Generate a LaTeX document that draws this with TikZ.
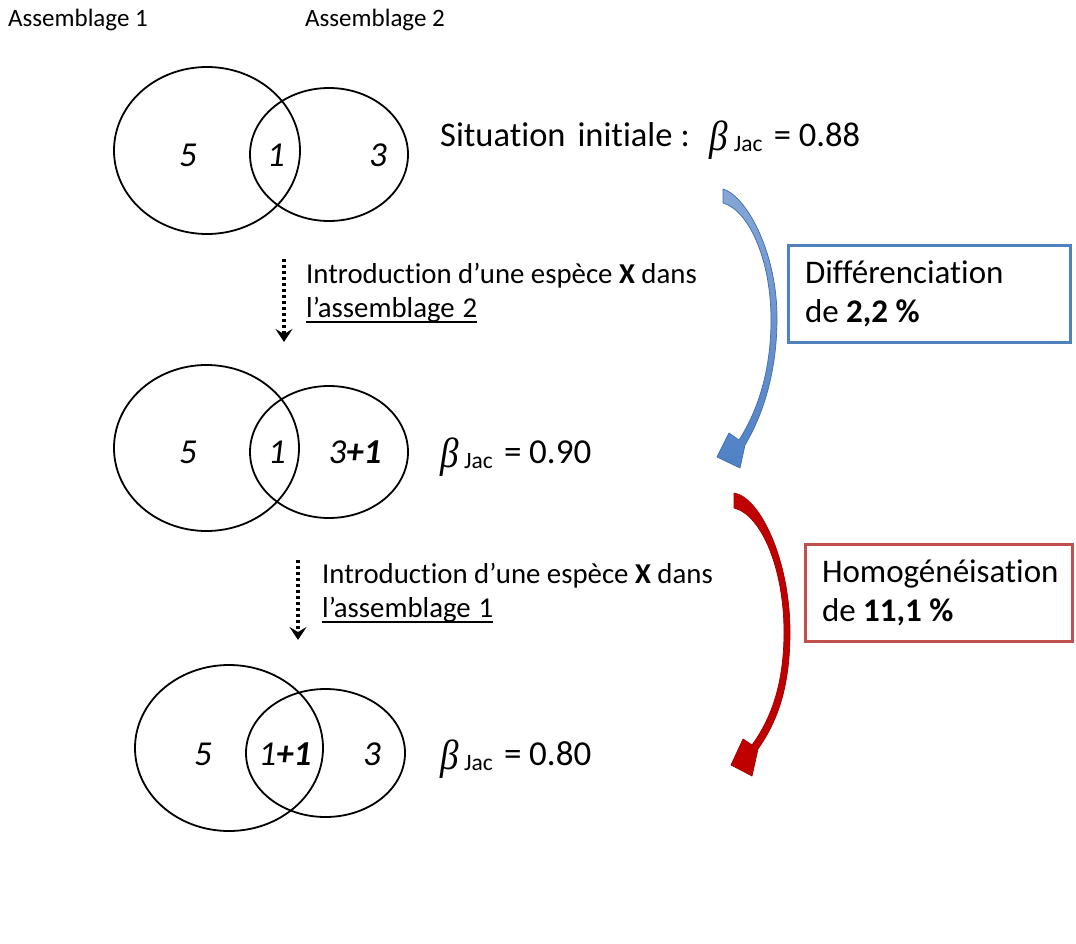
\documentclass[tikz,border=0pt]{standalone}
\usepackage{fontspec}
\usepackage{graphicx}
\setmainfont{Carlito}[Ligatures=CommonOff]
\newfontfamily\grk{Liberation Serif}
\usetikzlibrary{arrows.meta,shapes.geometric}
\definecolor{bboxc}{HTML}{4F81BD}
\definecolor{rboxc}{HTML}{C0504D}
\definecolor{barrowc}{HTML}{4F81C6}
\definecolor{barrowtop}{HTML}{86A6D6}
\definecolor{barrowline}{HTML}{3E6DB0}
\definecolor{rarrowc}{HTML}{C00000}
\definecolor{rarrowline}{HTML}{A00000}
\newcommand\myul[1]{\setbox0\hbox{#1}\rlap{\rule[-5.5pt]{\wd0}{1.4pt}}\box0}
\newcommand\bjac[1]{\makebox[24pt][l]{\raisebox{-4pt}{\scalebox{0.95}[1.08]{\grk\itshape\fontsize{39}{40}\selectfont β}}}%
  \makebox[40pt][l]{\raisebox{-5pt}{\fontsize{23.5}{24}\selectfont Jac}}%
  \makebox[25pt][l]{=}#1}
\begin{document}
\begin{tikzpicture}[x=1pt,y=-1pt,
  venn/.style={draw=black, line width=1.8pt, ellipse, inner sep=0pt},
  num/.style={anchor=base, inner sep=0pt, font=\fontsize{35}{40}\selectfont\itshape},
  small/.style={anchor=base west, inner sep=0pt, font=\fontsize{25}{30}\selectfont},
  intro/.style={anchor=base west, inner sep=0pt, align=flush left, font=\fontsize{28.8}{34}\selectfont},
  blabel/.style={anchor=base west, inner sep=0pt, font=\fontsize{35}{40}\selectfont},
  dotarrow/.style={line width=3.2pt, dash pattern=on 3pt off 3pt, -{Stealth[length=13pt,width=17pt,inset=5pt]}},
  resbox/.style={line width=3pt, rectangle, inner xsep=17pt, inner ysep=0pt, align=flush left, font=\fontsize{33}{39}\selectfont},
]
\useasboundingbox[fill=white] (0,0) rectangle (1076,944);

% top labels
\node[small] (lab1) at (8,27) {Assemblage 1};
\node[small] (lab2) at (305,27) {Assemblage 2};

% Venn 1
\node[venn, minimum width=186pt, minimum height=167pt] (v1a) at (207,150.5) {};
\node[venn, minimum width=158pt, minimum height=133pt] (v1b) at (329,154.5) {};
\node[num] (n1a) at (188,167) {5};
\node[num] (n1b) at (276,167) {1};
\node[num] (n1c) at (378,167) {3};
\node[blabel, font=\fontsize{34.5}{40}\selectfont] (b1) at (440,147) {Situation\hspace{12pt}initiale\hspace{8pt}:\hspace{20pt}\bjac{0.88}};

% Venn 2
\node[venn, minimum width=185pt, minimum height=166pt] (v2a) at (206.5,448) {};
\node[venn, minimum width=158pt, minimum height=132pt] (v2b) at (329,452) {};
\node[num] (n2a) at (188,463) {5};
\node[num] (n2b) at (277,463) {1};
\node[num] (n2c) at (355,463) {3\textbf{+1}};
\node[blabel] (b2) at (440,463) {\bjac{0.90}};

% Venn 3
\node[venn, minimum width=188pt, minimum height=166pt] (v3a) at (229,748) {};
\node[venn, minimum width=159pt, minimum height=128pt] (v3b) at (325.5,753) {};
\node[num] (n3a) at (203,765) {5};
\node[num] (n3b) at (285,765) {1\textbf{+1}};
\node[num] (n3c) at (372,765) {3};
\node[blabel] (b3) at (440,765) {\bjac{0.80}};

% dotted arrows and texts
\coordinate (d1s) at (284,259);
\coordinate (d1e) at (284,342);
\draw[dotarrow] (d1s) -- (d1e);
\node[intro] (t1) at (306,317) {Introduction d’une espèce \textbf{X} dans\\\myul{l’assemblage\hspace{8pt}2}};

\coordinate (d2s) at (298,560);
\coordinate (d2e) at (298,640);
\draw[dotarrow] (d2s) -- (d2e);
\node[intro] (t2) at (322,617) {Introduction d’une espèce \textbf{X} dans\\\myul{l’assemblage\hspace{8pt}1}};

% result boxes
\node[resbox, draw=bboxc, minimum width=282pt, minimum height=97pt, text width=248pt] (diff) at (929,293.5) {Différenciation\\de \textbf{2,2 \%}};
\node[resbox, draw=rboxc, minimum width=267pt, minimum height=97pt, text width=233pt] (homo) at (938.5,592.5) {\mbox{Homogénéisation}\\de \textbf{11,1 \%}};

% blue curved arrow
\path[draw=barrowline, line width=0.7pt, top color=barrowtop, bottom color=barrowc, line join=round]
 (723,189) .. controls (745,195) and (777,250) .. (777,318)
 .. controls (777,372) and (763,415) .. (745,445)
 -- (740,468) -- (717,457) -- (729,433) -- (739,440)
 .. controls (757,412) and (771,372) .. (771,320)
 .. controls (771,258) and (748,210) .. (723,203) -- cycle;

% red curved arrow
\path[draw=rarrowline, line width=0.7pt, fill=rarrowc, line join=round]
 (734,493) .. controls (760,497) and (790,560) .. (790,632)
 .. controls (790,688) and (777,722) .. (758,749)
 -- (752,776) -- (731,765) -- (743,739) -- (752,745)
 .. controls (770,720) and (784,686) .. (784,632)
 .. controls (784,570) and (762,515) .. (734,508) -- cycle;
\end{tikzpicture}
\end{document}
